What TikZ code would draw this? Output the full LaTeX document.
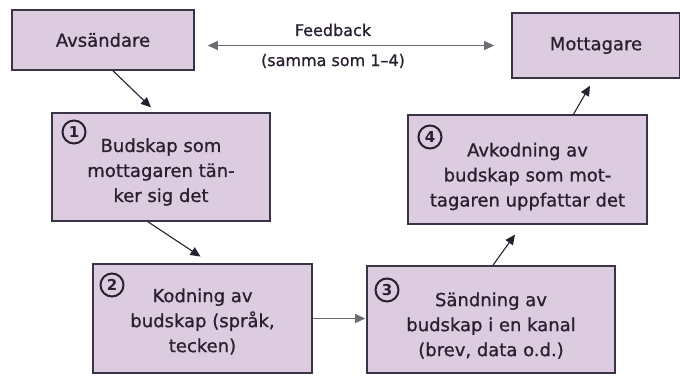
\documentclass[tikz,border=0pt]{standalone}
\usepackage{fontspec}
\setmainfont{DejaVu Sans}
\newfontfamily\semibf{DejaVu Sans}[FakeBold=0.9]
\usetikzlibrary{arrows.meta}
\definecolor{boxfill}{RGB}{221,203,224}
\definecolor{boxline}{RGB}{58,52,72}
\definecolor{inkc}{RGB}{40,32,48}
\definecolor{fbline}{RGB}{110,105,115}
\begin{document}
\begin{tikzpicture}[x=1pt,y=-1pt,
  box/.style={draw=boxline,fill=boxfill,line width=1.6pt,inner sep=0pt},
  boxtext/.style={align=center,text=inkc,font=\semibf\fontsize{18}{25}\selectfont,inner sep=0pt},
  numc/.style={circle,draw=inkc,line width=2pt,minimum size=23pt,inner sep=0pt,text=inkc,font=\fontsize{15}{15}\selectfont\bfseries},
  arr/.style={draw=inkc,line width=1.1pt,-{Triangle[length=10pt,width=9pt]}},
  thinarr/.style={draw=fbline,line width=0.8pt,-{Triangle[length=10pt,width=9pt]},>={Triangle[length=10pt,width=9pt]}},
  fbtext/.style={text=inkc,font=\semibf\fontsize{16}{16}\selectfont,inner sep=0pt}]
\useasboundingbox (0,0) rectangle (680,376);
% boxes
\node[box,minimum width=182pt,minimum height=60pt] (av) at (103,40) {};
\node[boxtext] (avt) at (av.center) {Avsändare};
\node[box,minimum width=168pt,minimum height=65pt] (mo) at (596,45.5) {};
\node[boxtext] (mot) at (mo.center) {Mottagare};
\node[box,minimum width=218pt,minimum height=108pt] (b1) at (161,167) {};
\node[boxtext] (t1) at ([yshift=-5pt]b1.center) {Budskap som\\mottagaren tän-\\ker sig det};
\node[numc] (n1) at (74,132) {1};
\node[box,minimum width=219pt,minimum height=109pt] (b2) at (202.5,318.5) {};
\node[boxtext] (t2) at ([yshift=-3pt]b2.center) {Kodning av\\budskap (språk,\\tecken)};
\node[numc] (n2) at (112,285) {2};
\node[box,minimum width=248pt,minimum height=107pt] (b3) at (491,319.5) {};
\node[boxtext] (t3) at ([yshift=-6pt]b3.center) {Sändning av\\budskap i en kanal\\(brev, data o.d.)};
\node[numc] (n3) at (387,290) {3};
\node[box,minimum width=239pt,minimum height=109pt] (b4) at (527.5,169.5) {};
\node[boxtext] (t4) at ([yshift=-7pt]b4.center) {Avkodning av\\budskap som mot-\\tagaren uppfattar det};
\node[numc] (n4) at (430,137) {4};
% feedback
\node[fbtext] (fb) at (333,30) {Feedback};
\node[fbtext] (fs) at (333,61) {(samma som 1–4)};
\draw[thinarr,<->,shorten <=13pt,shorten >=17pt] (av.east |- mo.west) -- (mo.west);
% arrows
\draw[arr,shorten >=7pt] ([xshift=10pt]av.south) -- ([xshift=-5pt]b1.north);
\draw[arr,shorten >=12pt] ([xshift=-13pt]b1.south) -- ([xshift=8pt]b2.north);
\draw[thinarr,shorten >=1pt] (b2.east) -- (b2.east -| b3.west);
\draw[arr,shorten >=12pt] ([xshift=2pt]b3.north) -- ([xshift=-5.5pt]b4.south);
\draw[arr,shorten >=8pt] ([xshift=46pt]b4.north) -- ([xshift=-2pt]mo.south);
\end{tikzpicture}
\end{document}
